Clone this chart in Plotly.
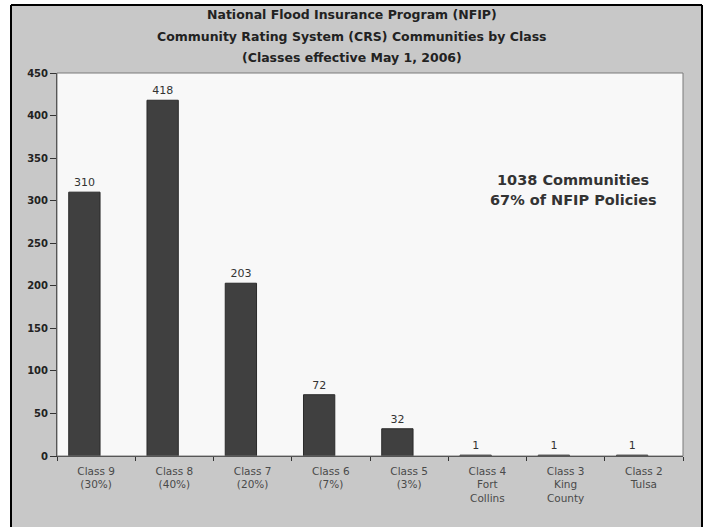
import plotly.graph_objects as go

categories = ["Class 9<br>(30%)", "Class 8<br>(40%)", "Class 7<br>(20%)", "Class 6<br>(7%)",
              "Class 5<br>(3%)", "Class 4<br>Fort<br>Collins", "Class 3<br>King<br>County", "Class 2<br>Tulsa"]
values = [310, 418, 203, 72, 32, 1, 1, 1]
y_ticks = [0, 50, 100, 150, 200, 250, 300, 350, 400, 450]
title_lines = ["National Flood Insurance Program (NFIP)",
               "Community Rating System (CRS) Communities by Class",
               "(Classes effective May 1, 2006)"]
note_lines = ["1038 Communities", "67% of NFIP Policies"]

W, H = 705, 527
L, R, T, B = 57, 683, 73, 456

def px(x):
    return (x - L) / (R - L)

def py(y):
    return (B - y) / (B - T)

fig = go.Figure()
fig.add_trace(go.Bar(
    x=list(range(len(categories))), y=values,
    width=0.4, offset=-0.35,
    marker=dict(color="#404040", line=dict(color="#2a2a2a", width=1)),
    text=[str(v) for v in values], textposition="outside",
    textfont=dict(family="DejaVu Sans", size=11, color="#333333"),
    cliponaxis=False,
))

annotations = []
for i, t in enumerate(title_lines):
    annotations.append(dict(text="<b>" + t + "</b>", xref="paper", yref="paper",
                            x=px(352), y=py(14 + 22 * i), showarrow=False,
                            font=dict(family="DejaVu Sans", size=12.5, color="#222222"),
                            xanchor="center", yanchor="middle"))
for i, t in enumerate(note_lines):
    annotations.append(dict(text="<b>" + t + "</b>", xref="paper", yref="paper",
                            x=px(573), y=py(180 + 20 * i), showarrow=False,
                            font=dict(family="DejaVu Sans", size=14.5, color="#333333"),
                            xanchor="center", yanchor="middle"))

fig.update_layout(
    width=W, height=H,
    margin=dict(l=L, r=W - R, t=T, b=H - B),
    paper_bgcolor="white", plot_bgcolor="#f8f8f8",
    showlegend=False,
    font=dict(family="DejaVu Sans", color="#333333"),
    shapes=[
        dict(type="rect", xref="paper", yref="paper", layer="below",
             x0=px(11), x1=px(702), y0=py(527), y1=py(5),
             fillcolor="#c8c8c8", line=dict(width=0)),
        dict(type="rect", xref="paper", yref="paper", layer="below",
             x0=0, x1=1, y0=0, y1=1, fillcolor="#f8f8f8", line=dict(width=0)),
        dict(type="line", xref="paper", yref="paper",
             x0=px(11), x1=px(11), y0=py(527), y1=py(5), line=dict(color="black", width=2)),
        dict(type="line", xref="paper", yref="paper",
             x0=px(11), x1=px(702), y0=py(5), y1=py(5), line=dict(color="black", width=2)),
        dict(type="line", xref="paper", yref="paper",
             x0=px(702), x1=px(702), y0=py(527), y1=py(5), line=dict(color="black", width=2)),
        dict(type="rect", xref="paper", yref="paper",
             x0=0, x1=1, y0=0, y1=1, line=dict(color="#7a7a7a", width=1)),
    ],
    annotations=annotations,
)

fig.update_xaxes(
    tickmode="array", tickvals=list(range(len(categories))), ticktext=categories,
    range=[-0.5, len(categories) - 0.5], showgrid=False, zeroline=False,
    showline=True, linecolor="#333333", linewidth=1,
    ticks="", ticklabelstandoff=5,
    minor=dict(tickvals=[i - 0.5 for i in range(len(categories) + 1)],
               ticks="outside", ticklen=4, tickcolor="#333333"),
    tickfont=dict(family="DejaVu Sans", size=10.5, color="#4a4a4a"),
)
fig.update_yaxes(
    range=[0, 450], tickvals=y_ticks, ticktext=["<b>" + str(v) + "</b>" for v in y_ticks],
    showgrid=False, zeroline=False, showline=True, linecolor="#333333", linewidth=1,
    ticks="outside", ticklen=6, tickcolor="#333333",
    tickfont=dict(size=10, color="#222222", family="DejaVu Sans"),
)

fig.write_html("out.html")
